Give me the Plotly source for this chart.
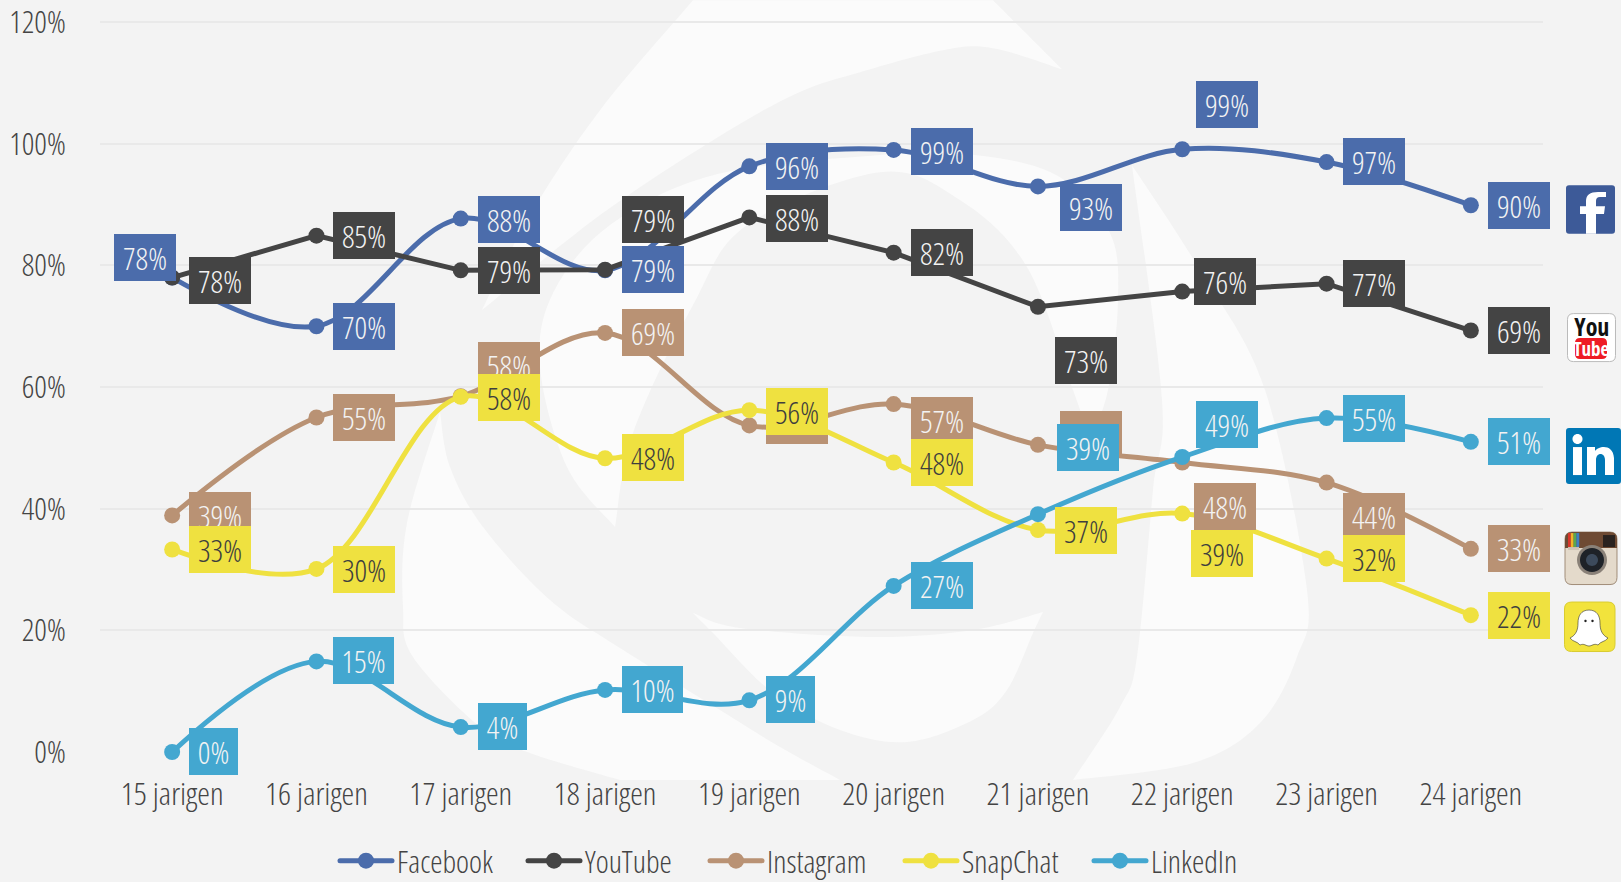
import plotly.graph_objects as go

ages = ["15 jarigen","16 jarigen","17 jarigen","18 jarigen","19 jarigen","20 jarigen","21 jarigen","22 jarigen","23 jarigen","24 jarigen"]
y_ticks = [0,20,40,60,80,100,120]
y_tick_text = ["0%","20%","40%","60%","80%","100%","120%"]

facebook  = [78,70,87.7,79.2,96.3,99,93,99.1,97,89.9]
youtube   = [78,84.9,79.2,79.3,87.9,82.1,73.2,75.7,77,69.3]
instagram = [38.9,55,58.5,68.9,53.7,57.2,50.5,47.6,44.3,33.4]
snapchat  = [33.3,30.1,58.4,48.3,56.2,47.6,36.5,39.2,31.8,22.5]
linkedin  = [0,14.9,4.1,10.2,8.5,27.3,39.1,48.5,54.9,51]

facebook_labels  = [78,70,88,79,96,99,93,99,97,90]
youtube_labels   = [78,85,79,79,88,82,73,76,77,69]
instagram_labels = [39,55,58,69,54,57,51,48,44,33]
snapchat_labels  = [33,30,58,48,56,48,37,39,32,22]
linkedin_labels  = [0,15,4,10,9,27,39,49,55,51]

series_names = ["Facebook","YouTube","Instagram","SnapChat","LinkedIn"]

# label box offsets from their point, in pixels
facebook_dx  = [-27,48,48.5,48,48,48,53.5,45,47,48]
facebook_dy  = [-20,0.7,0.8,-0.5,0.5,1.5,21.5,-44.5,-0.5,0.2]
youtube_dx   = [48,48,48.5,48,48,48,48.5,43,47,48]
youtube_dy   = [3,0.3,0.5,-49.8,1.2,0.2,54,-10.2,-0.3,-0.3]
instagram_dx = [48,48,48.5,48,48,48,53.5,43,47,48]
instagram_dy = [-0.3,0,-31,0,-5,16,-10.5,44.3,33.5,0]
snapchat_dx  = [48,48,48.5,48,48,48,48.5,40,47,48]
snapchat_dy  = [-0.3,0.3,0.3,-0.3,1,-0.3,0.3,40,-0.3,0]
linkedin_dx  = [41,47.5,42,47.8,41.5,48,50.5,45,47,48]
linkedin_dy  = [-0.7,-0.7,-0.7,-0.7,-0.9,0,-66.8,-32.5,0,0]

BG = "#f3f3f3"
COLORS = ["#4b6cab","#444444","#b99274","#efe140","#43a7d0"]
TEXTCOL = ["#f3f3f3","#f3f3f3","#f3f3f3","#3e3e3e","#f3f3f3"]
FONT = "Open Sans"
Y_MAX = 122
L, R, B, W, H = 100, 1543, 752, 1621, 882
T = B - 730 * Y_MAX / 120

def px(x): return (x - L) / (R - L)
def py(y): return (B - y) / (B - T)
def P(x, y): return f"{px(x):.5f},{py(y):.5f}"

def smooth(pts, k=1/6):
    out = ""
    n = len(pts)
    for i in range(n - 1):
        p0 = pts[max(i-1, 0)]; p1 = pts[i]; p2 = pts[i+1]; p3 = pts[min(i+2, n-1)]
        c1 = (p1[0] + (p2[0]-p0[0])*k, p1[1] + (p2[1]-p0[1])*k)
        c2 = (p2[0] - (p3[0]-p1[0])*k, p2[1] - (p3[1]-p1[1])*k)
        out += f"C{P(*c1)} {P(*c2)} {P(*p2)} "
    return out

def blade(*edges):
    d = "M" + P(*edges[0][0]) + " "
    for e in edges:
        d += smooth(e)
    return d + "Z"

def rrect(x0, y0, x1, y1, r):
    return (f"M{P(x0+r,y0)} L{P(x1-r,y0)} Q{P(x1,y0)} {P(x1,y0+r)} L{P(x1,y1-r)} Q{P(x1,y1)} {P(x1-r,y1)} "
            f"L{P(x0+r,y1)} Q{P(x0,y1)} {P(x0,y1-r)} L{P(x0,y0+r)} Q{P(x0,y0)} {P(x0+r,y0)} Z")

WHITE = "#fbfbfb"
logo = [
    blade([(482,310),(530,215),(600,110),(693,0)], [(693,0),(993,0)], [(993,0),(1062,69)],
          [(1062,69),(993,48),(943,50),(860,72),(797,93),(713,140),(600,215),(482,310)]),
    blade([(615,527),(567,467),(540,367),(553,293),(610,225),(713,175),(877,155),(977,155),(1060,177),(1110,233),(1118,300),(1108,390),(1090,440)],
          [(1090,440),(1073,390),(1027,267),(960,200),(880,172),(747,225),(693,305),(633,433),(615,527)]),
    blade([(1132,165),(1162,400),(1153,490),(1137,657),(1120,707),(1073,780)], [(1073,780),(1193,763),(1260,723),(1297,657),(1307,590),(1265,390),(1200,270),(1132,165)]),
    blade([(693,613),(740,628),(873,637),(973,630),(1043,612)],
          [(1043,612),(1033,633),(1007,690),(973,720),(907,742),(840,730),(773,693),(713,633),(693,613)]),
    blade([(440,412),(407,523),(403,607),(413,657),(480,727),(530,753),(620,780)], [(620,780),(840,780)],
          [(840,780),(780,747),(720,710),(620,648),(550,600),(483,527),(450,467),(440,412)]),
]
shapes = [dict(type="path", path=p, xref="paper", yref="paper", fillcolor=WHITE, line_width=0, layer="below") for p in logo]

def icon(path, color, line=None, lw=0):
    shapes.append(dict(type="path", path=path, xref="paper", yref="paper", fillcolor=color,
                       line=dict(color=line or color, width=lw), layer="above"))
def rect(x0,y0,x1,y1,color):
    icon(f"M{P(x0,y0)} L{P(x1,y0)} L{P(x1,y1)} L{P(x0,y1)} Z", color)
def circle(cx,cy,r,color,line=None,lw=0):
    k=0.5523*r
    icon(f"M{P(cx-r,cy)} C{P(cx-r,cy-k)} {P(cx-k,cy-r)} {P(cx,cy-r)} C{P(cx+k,cy-r)} {P(cx+r,cy-k)} {P(cx+r,cy)} "
         f"C{P(cx+r,cy+k)} {P(cx+k,cy+r)} {P(cx,cy+r)} C{P(cx-k,cy+r)} {P(cx-r,cy+k)} {P(cx-r,cy)} Z", color, line, lw)

# Facebook icon
icon(rrect(1566,185,1615,233.7,3), "#3d5a98")
icon("M"+P(1596,233.7)+" L"+P(1596,214)+" L"+P(1604,214)+" L"+P(1605,206)+" L"+P(1596,206)+" L"+P(1596,201)
     +" Q"+P(1596,197)+" "+P(1600,197)+" L"+P(1606,197)+" L"+P(1606,192)+" L"+P(1598,192)
     +" Q"+P(1586,192)+" "+P(1586,201)+" L"+P(1586,206)+" L"+P(1580,206)+" L"+P(1580,214)+" L"+P(1586,214)+" L"+P(1586,233.7)+" Z", "#ffffff")
# YouTube icon
icon(rrect(1567.5,313.5,1615.5,361.5,6), "#ffffff", "#bbbbbb", 1)
icon(rrect(1575,338,1607,359,5), "#ee1c25")
# LinkedIn icon
icon(rrect(1566,428,1621,484,3), "#0077b5")
rect(1573,447,1582,475,"#ffffff")
circle(1577.5,439,5,"#ffffff")
icon("M"+P(1587,447)+" L"+P(1595,447)+" L"+P(1595,451)+" C"+P(1598,446)+" "+P(1613,443)+" "+P(1614,458)+" L"+P(1614,475)+" L"+P(1605,475)
     +" L"+P(1605,460)+" C"+P(1605,452)+" "+P(1596,452)+" "+P(1596,460)+" L"+P(1596,475)+" L"+P(1587,475)+" Z", "#ffffff")
# Instagram icon
icon(rrect(1565,532,1617,584.5,7), "#e4dacb", "#a08c78", 1)
icon(f"M{P(1565,548)} L{P(1565,539)} Q{P(1565,532)} {P(1572,532)} L{P(1610,532)} Q{P(1617,532)} {P(1617,539)} L{P(1617,548)} Z", "#6e4a33")
for x, c in zip([1568,1570.8,1573.6,1576.4], ["#d8352a","#efb32a","#58a84f","#3f7ec0"]):
    rect(x,533,x+2.8,547,c)
rect(1568,547,1579,550,"#cfc4b5")
rect(1603,535,1615,547,"#2a2320")
circle(1592,560,15,"#8a8178")
circle(1592,560,12,"#1e2228")
circle(1592,560,6,"#3c4a5c")
# Snapchat icon
icon(rrect(1564.5,602,1615,651.5,7), "#f2e33c", "#d9cc30", 1)
icon("M"+P(1589,610)+" C"+P(1597,610)+" "+P(1600,616)+" "+P(1600,623)+" C"+P(1600,630)+" "+P(1602,635)+" "+P(1608,638)
     +" C"+P(1605,642)+" "+P(1601,641)+" "+P(1598,645)+" C"+P(1594,643)+" "+P(1592,646)+" "+P(1589,646)
     +" C"+P(1586,646)+" "+P(1584,643)+" "+P(1580,645)+" C"+P(1577,641)+" "+P(1573,642)+" "+P(1570,638)
     +" C"+P(1576,635)+" "+P(1578,630)+" "+P(1578,623)+" C"+P(1578,616)+" "+P(1581,610)+" "+P(1589,610)+" Z", "#ffffff", "#333333", 0.6)
circle(1585.5,621,1.2,"#222222")
circle(1592.5,621,1.2,"#222222")

fig = go.Figure()
all_vals = [facebook, youtube, instagram, snapchat, linkedin]
all_labels = [facebook_labels, youtube_labels, instagram_labels, snapchat_labels, linkedin_labels]
all_dx = [facebook_dx, youtube_dx, instagram_dx, snapchat_dx, linkedin_dx]
all_dy = [facebook_dy, youtube_dy, instagram_dy, snapchat_dy, linkedin_dy]
curve = ["spline","linear","spline","spline","spline"]

annotations = []
for s, name in enumerate(series_names):
    fig.add_trace(go.Scatter(x=ages, y=all_vals[s], name=name, mode="lines+markers", cliponaxis=False,
                             line=dict(color=COLORS[s], width=5, shape=curve[s], smoothing=1.0),
                             marker=dict(color=COLORS[s], size=16)))
    for i, a in enumerate(ages):
        lab = all_labels[s][i]
        w = 62
        if s == 4:
            w = 49 if lab < 10 else (61 if lab < 20 else 62)
        annotations.append(dict(x=a, y=all_vals[s][i], xref="x", yref="y", text=f"{lab}%", showarrow=False,
                                xanchor="center", yanchor="middle", xshift=all_dx[s][i], yshift=-all_dy[s][i],
                                width=w, height=47, bgcolor=COLORS[s], borderpad=0, borderwidth=0, align="center", valign="middle",
                                font=dict(family=FONT, size=31, weight=300, color=TEXTCOL[s])))

def icon_text(t, x, y, size, color, weight=700):
    annotations.append(dict(x=px(x), y=py(y), xref="paper", yref="paper", text=t, showarrow=False,
                            xanchor="center", yanchor="middle", font=dict(family=FONT, size=size, weight=weight, color=color)))
icon_text("You", 1592, 326, 24, "#111111")
icon_text("Tube", 1591, 348.5, 19, "#ffffff")

fig.update_layout(
    width=W, height=H, margin=dict(l=L, r=W-R, t=T, b=H-B, autoexpand=False),
    paper_bgcolor=BG, plot_bgcolor="rgba(0,0,0,0)", shapes=shapes, annotations=annotations,
    font=dict(family=FONT, weight=300, color="#444444", size=30),
    showlegend=True,
    legend=dict(orientation="h", x=px(788), xanchor="center", y=py(861), yanchor="middle",
                itemwidth=52, font=dict(family=FONT, size=31, weight=300, color="#444444"),
                bgcolor="rgba(0,0,0,0)", itemclick=False, itemdoubleclick=False),
    xaxis=dict(type="category", categoryorder="array", categoryarray=ages, range=[-0.5,9.5], showgrid=False, zeroline=False, showline=False,
               ticks="outside", ticklen=14, tickcolor="rgba(0,0,0,0)", tickfont=dict(family=FONT, size=32, weight=300, color="#444444")),
    yaxis=dict(range=[0,Y_MAX], tickvals=y_ticks, ticktext=y_tick_text, showgrid=True, gridcolor="#e9e9e9", gridwidth=2, zeroline=False, showline=False,
               ticks="outside", ticklen=27, tickcolor="rgba(0,0,0,0)", tickfont=dict(family=FONT, size=31, weight=300, color="#444444")),
)

post = ("document.body.style.margin='0';document.documentElement.style.overflow='hidden';"
        "var s=document.createElement('style');s.textContent='svg text{font-stretch:75%}.legendlines path{stroke-linecap:round}';document.head.appendChild(s);"
        "var gd=document.getElementById('{plot_id}');"
        "Plotly.redraw(gd).then(function(){var target=[340,528,710,905,1094];"
        "gd.querySelectorAll('.legend .traces').forEach(function(t,i){"
        "var m=/translate\\(([-\\d.]+),\\s*([-\\d.]+)\\)/.exec(t.getAttribute('transform'));"
        "var l=t.querySelector('.js-line').getBoundingClientRect().left;"
        "t.setAttribute('transform','translate('+(parseFloat(m[1])+target[i]-l)+','+m[2]+')');});});")
fig.write_html("out.html", config={"displayModeBar": False}, post_script=post)
